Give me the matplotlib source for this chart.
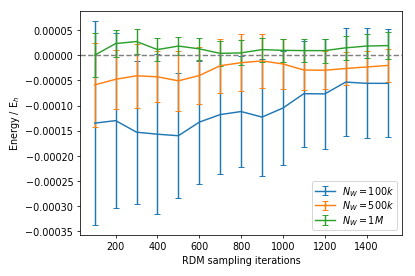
import matplotlib
matplotlib.use("Agg")
import matplotlib.pyplot as plt
import numpy as np

# RDM sampling iterations
iters = [100, 200, 300, 400, 500, 600, 700, 800, 900, 1000, 1100, 1200, 1300, 1400, 1500]

# energies in units of 1e-5 E_h
e_100k = [-13.5, -13.0, -15.3, -15.7, -16.0, -13.3, -11.8, -11.2, -12.3, -10.5, -7.65, -7.7, -5.35, -5.6, -5.6]
err_100k = [20.2, 17.4, 14.2, 15.9, 12.4, 12.2, 11.8, 11.1, 11.6, 11.3, 10.5, 11.0, 10.7, 10.9, 10.7]

e_500k = [-5.9, -4.8, -4.1, -4.3, -5.1, -4.05, -2.1, -1.5, -1.15, -1.75, -2.95, -3.0, -2.65, -2.35, -2.05]
err_500k = [8.4, 5.9, 6.3, 5.1, 5.9, 5.65, 5.35, 5.6, 5.4, 5.0, 4.0, 3.8, 3.2, 3.1, 3.2]

e_1m = [0.0, 2.3, 2.7, 1.1, 1.8, 1.25, 0.35, 0.45, 1.1, 0.95, 0.9, 0.9, 1.45, 1.8, 1.9]
err_1m = [4.4, 2.75, 2.5, 2.3, 1.8, 2.2, 2.45, 2.5, 2.4, 2.3, 2.3, 2.4, 2.4, 2.3, 2.6]

labels = [r"$N_W = 100k$", r"$N_W = 500k$", r"$N_W = 1M$"]

scale = 1e-5

fig = plt.figure(figsize=(6, 4), dpi=69.17)
ax = fig.add_axes([0.193, 0.148, 0.776, 0.809])

for e, err, lab in zip([e_100k, e_500k, e_1m], [err_100k, err_500k, err_1m], labels):
    ax.errorbar(iters, np.array(e) * scale, yerr=np.array(err) * scale, capsize=3, label=lab)

ax.axhline(0, ls="--", color="grey")

ax.set_xlabel("RDM sampling iterations")
ax.set_ylabel(r"Energy / E$_h$")
ax.legend(loc="lower right", labelspacing=0.1, borderpad=0.3)

fig.savefig("out.png", dpi=69.17)
